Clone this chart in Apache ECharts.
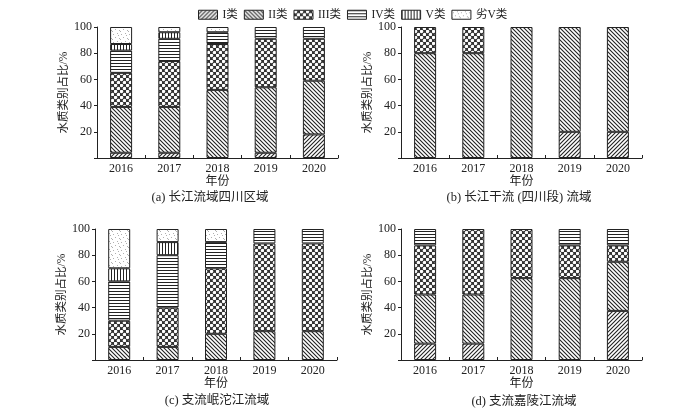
<!DOCTYPE html>
<html>
<head>
<meta charset="utf-8">
<script src="https://cdn.jsdelivr.net/npm/echarts@6/dist/echarts.min.js"></script>
<style>html,body{margin:0;padding:0;background:#fff;}#c{width:700px;height:412px;}</style>
</head>
<body>
<div id="c"></div>
<script>
// ---- data ----
const years = ['2016', '2017', '2018', '2019', '2020'];
const classNames = ['I类', 'II类', 'III类', 'IV类', 'V类', '劣V类'];
const yTicks = [0, 20, 40, 60, 80, 100];
const captions = ['(a) 长江流域四川区域', '(b) 长江干流 (四川段) 流域', '(c) 支流岷沱江流域', '(d) 支流嘉陵江流域'];

// (a) 长江流域四川区域
const aI   = [4, 4, 0, 4, 18];
const aII  = [35, 35, 52, 50, 41];
const aIII = [26, 35, 35, 37, 32];
const aIV  = [17, 17, 9, 9, 9];
const aV   = [5, 5, 0, 0, 0];
const aW   = [13, 4, 4, 0, 0];
// (b) 长江干流（四川段）
const bI   = [0, 0, 0, 20, 20];
const bII  = [80, 80, 100, 80, 80];
const bIII = [20, 20, 0, 0, 0];
const bIV  = [0, 0, 0, 0, 0];
const bV   = [0, 0, 0, 0, 0];
const bW   = [0, 0, 0, 0, 0];
// (c) 支流岷沱江
const cI   = [0, 0, 0, 0, 0];
const cII  = [10, 10, 20, 22, 22];
const cIII = [20, 30, 50, 67, 67];
const cIV  = [30, 40, 20, 11, 11];
const cV   = [10, 10, 0, 0, 0];
const cW   = [30, 10, 10, 0, 0];
// (d) 支流嘉陵江
const dI   = [12.5, 12.5, 0, 0, 37.5];
const dII  = [37.5, 37.5, 62.5, 62.5, 37.5];
const dIII = [37.5, 50, 37.5, 25, 12.5];
const dIV  = [12.5, 0, 0, 12.5, 12.5];
const dV   = [0, 0, 0, 0, 0];
const dW   = [0, 0, 0, 0, 0];

const panels = [
  [aI, aII, aIII, aIV, aV, aW],
  [bI, bII, bIII, bIV, bV, bW],
  [cI, cII, cIII, cIV, cV, cW],
  [dI, dII, dIII, dIV, dV, dW]
];

// ---- patterns ----
const INK = '#222';
function makePattern(w, h, draw) {
  const c = document.createElement('canvas');
  c.width = w; c.height = h;
  const ctx = c.getContext('2d');
  ctx.fillStyle = '#fff';
  ctx.fillRect(0, 0, w, h);
  ctx.strokeStyle = INK;
  ctx.fillStyle = INK;
  draw(ctx, w, h);
  return { image: c, repeat: 'repeat' };
}
const patterns = [
  makePattern(4, 4, (ctx) => { // I: ///
    ctx.lineWidth = 1.1;
    ctx.beginPath();
    ctx.moveTo(0, 4); ctx.lineTo(4, 0);
    ctx.moveTo(-1, 1); ctx.lineTo(1, -1);
    ctx.moveTo(3, 5); ctx.lineTo(5, 3);
    ctx.stroke();
  }),
  makePattern(4, 4, (ctx) => { // II: \\\
    ctx.lineWidth = 1.1;
    ctx.beginPath();
    ctx.moveTo(0, 0); ctx.lineTo(4, 4);
    ctx.moveTo(-1, 3); ctx.lineTo(1, 5);
    ctx.moveTo(3, -1); ctx.lineTo(5, 1);
    ctx.stroke();
  }),
  makePattern(6, 6, (ctx) => { // III: crosshatch with circles
    ctx.fillStyle = '#333';
    ctx.fillRect(0, 0, 6, 6);
    ctx.fillStyle = '#fff';
    [[1.5, 1.5], [4.5, 4.5]].forEach(p => {
      ctx.beginPath(); ctx.arc(p[0], p[1], 1.75, 0, Math.PI * 2); ctx.fill();
    });
  }),
  makePattern(4, 3, (ctx) => { // IV: horizontal
    ctx.fillRect(0, 0, 4, 1);
  }),
  makePattern(3, 4, (ctx) => { // V: vertical
    ctx.fillRect(0, 0, 1, 4);
  }),
  makePattern(8, 8, (ctx) => { // 劣V: fine speckles
    ctx.fillStyle = '#b0b0b0';
    [[1, 2], [5, 1], [3, 5], [7, 6], [6, 3], [0, 7]].forEach(p => ctx.fillRect(p[0], p[1], 1, 1));
  })
];

// ---- layout ----
const FONT = "'Liberation Serif', 'Noto Sans CJK SC', serif";
const grids = [
  { left: 97, top: 27, width: 241, height: 131 },
  { left: 401, top: 27, width: 241, height: 131 },
  { left: 95, top: 229, width: 242, height: 131 },
  { left: 401, top: 229, width: 241, height: 131 }
];
const captionPos = [[210, 198], [519, 198], [217, 401], [524, 402]];

const xAxes = [], yAxes = [], series = [];
grids.forEach((g, i) => {
  xAxes.push({
    type: 'category', gridIndex: i, data: years,
    name: '年份', nameLocation: 'middle', nameGap: 17,
    nameTextStyle: { fontFamily: FONT, fontSize: 12, color: INK },
    axisLine: { lineStyle: { color: INK, width: 1 } },
    axisTick: { show: true, inside: true, length: 3, lineStyle: { color: INK } },
    axisLabel: { fontFamily: FONT, fontSize: 12, color: INK, margin: 5 }
  });
  yAxes.push({
    type: 'value', gridIndex: i, min: yTicks[0], max: yTicks[yTicks.length - 1], interval: 20,
    name: '水质类别占比/%', nameLocation: 'middle', nameGap: 26, nameRotate: 90,
    nameTextStyle: { fontFamily: FONT, fontSize: 11.5, color: INK },
    axisLine: { show: true, lineStyle: { color: INK, width: 1 } },
    axisTick: { show: true, length: 3, lineStyle: { color: INK } },
    axisLabel: { fontFamily: FONT, fontSize: 12, color: INK, margin: 5, formatter: v => (v === 0 ? '' : String(v)) },
    splitLine: { show: false }
  });
  panels[i].forEach((arr, k) => {
    series.push({
      type: 'bar', name: classNames[k], xAxisIndex: i, yAxisIndex: i,
      stack: 'p' + i, barWidth: 22,
      data: arr.map(v => (v === 0 ? '-' : v)),
      itemStyle: { color: patterns[k], borderColor: INK, borderWidth: 1 },
      emphasis: { disabled: true }
    });
  });
});

const graphics = captions.map((t, i) => ({
  type: 'text', x: captionPos[i][0], y: captionPos[i][1],
  style: {
    text: t, font: '12.5px ' + FONT, fill: INK,
    align: 'center', verticalAlign: 'middle', textAlign: 'center', textVerticalAlign: 'middle'
  }
}));

const chart = echarts.init(document.getElementById('c'), null, { renderer: 'canvas' });
chart.setOption({
  animation: false,
  backgroundColor: '#fff',
  legend: {
    data: classNames, left: 193, top: 4, itemWidth: 19, itemHeight: 9, itemGap: 6,
    icon: 'rect',
    textStyle: { fontFamily: FONT, fontSize: 11.5, color: INK },
    itemStyle: { borderColor: INK, borderWidth: 1 }
  },
  grid: grids,
  xAxis: xAxes,
  yAxis: yAxes,
  series: series,
  graphic: graphics
});
</script>
</body>
</html>
